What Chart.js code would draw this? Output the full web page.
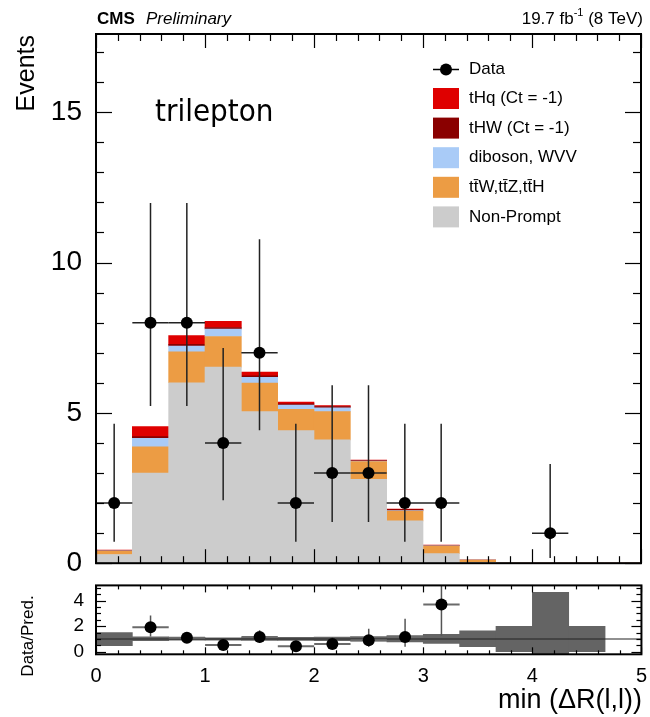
<!DOCTYPE html>
<html>
<head>
<meta charset="utf-8">
<script src="https://cdn.jsdelivr.net/npm/chart.js@4.4.1/dist/chart.umd.min.js"></script>
<style>
  html, body { margin: 0; padding: 0; background: #fff; }
  #wrap { position: relative; width: 650px; height: 717px; overflow: hidden; }
  #main { position: absolute; left: 0; top: 0; }
  #ratio { position: absolute; left: 0; top: 562px; }
</style>
</head>
<body>
<div id="wrap">
  <canvas id="main" width="650" height="594"></canvas>
  <canvas id="ratio" width="657" height="155"></canvas>
</div>
<script>
// ---- binning: min dR(l,l), 15 bins of width 1/3 between 0 and 5 ----
const binWidth = 1 / 3;
const binCenters = [0.1667, 0.5, 0.8333, 1.1667, 1.5, 1.8333, 2.1667, 2.5, 2.8333, 3.1667, 3.5, 3.8333, 4.1667, 4.5, 4.8333];

// ---- stacked predictions (events per bin) ----
const nonPrompt = [0.29, 3.00, 6.00, 6.52, 5.04, 4.41, 4.10, 2.79, 1.41, 0.32, 0.03, 0.01, 0.01, 0.01, 0.00];
const ttV       = [0.11, 0.87, 1.03, 1.02, 0.95, 0.71, 0.94, 0.59, 0.32, 0.25, 0.07, 0.00, 0.00, 0.00, 0.00];
const diboson   = [0.01, 0.28, 0.19, 0.25, 0.19, 0.14, 0.13, 0.02, 0.02, 0.01, 0.00, 0.00, 0.00, 0.00, 0.00];
const tHW       = [0.01, 0.06, 0.06, 0.05, 0.05, 0.04, 0.04, 0.01, 0.03, 0.01, 0.00, 0.00, 0.00, 0.00, 0.00];
const tHq       = [0.02, 0.33, 0.29, 0.20, 0.13, 0.06, 0.03, 0.02, 0.02, 0.01, 0.00, 0.00, 0.00, 0.00, 0.00];

// ---- observed data with Poisson intervals ----
const dataCounts = [2, 8, 8, 4, 7, 2, 3, 3, 2, 2, null, null, 1, null, null];
const dataLow    = [0.71, 5.23, 5.23, 2.09, 4.42, 0.71, 1.37, 1.37, 0.71, 0.71, null, null, 0.17, null, null];
const dataHigh   = [4.64, 11.98, 11.98, 7.16, 10.77, 4.64, 5.92, 5.92, 4.64, 4.64, null, null, 3.30, null, null];

// ---- ratio panel: data / prediction and prediction uncertainty ----
const ratioValues = [null, 1.92, 1.10, 0.52, 1.15, 0.43, 0.60, 0.90, 1.15, 3.70, null, null, null, null, null];
const ratioLow    = [null, 1.20, 0.70, 0.26, 0.70, 0.13, 0.26, 0.40, 0.39, 1.25, null, null, null, null, null];
const ratioHigh   = [null, 2.85, 1.55, 0.89, 1.68, 0.86, 1.13, 1.80, 2.58, 8.00, null, null, null, null, null];
const bandLow     = [0.47, 0.86, 0.90, 0.90, 0.88, 0.88, 0.87, 0.83, 0.78, 0.65, 0.40, 0.00, -2.60, 0.00];
const bandHigh    = [1.51, 1.16, 1.12, 1.10, 1.12, 1.13, 1.14, 1.18, 1.27, 1.36, 1.64, 2.00, 4.65, 2.00];

// ---- axis ticks ----
const xTicks = [0, 1, 2, 3, 4, 5];
const xTickLabels = ['0', '1', '2', '3', '4', '5'];
const yTicks = [0, 5, 10, 15];
const yTickLabels = ['0', '5', '10', '15'];
const ratioTicks = [0, 2, 4];
const ratioTickLabels = ['0', '2', '4'];

const legendEntries = [
  { label: 'tHq (Ct = -1)',      color: '#df0000' },
  { label: 'tHW (Ct = -1)',      color: '#8a0000' },
  { label: 'diboson, WVV',       color: '#a9cbf7' },
  { label: 't\u0074\u0304W,t\u0074\u0304Z,t\u0074\u0304H', color: '#ec9c44' },
  { label: 'Non-Prompt',         color: '#cccccc' }
];

const FONT = '"Liberation Sans", Arial, Helvetica, sans-serif';

function line(ctx, x0, y0, x1, y1) {
  ctx.beginPath(); ctx.moveTo(x0, y0); ctx.lineTo(x1, y1); ctx.stroke();
}

// ROOT-style frame with inward ticks on all four sides
function framePlugin(cfg) {
  return {
    id: 'frame',
    afterDraw(chart) {
      const { ctx, chartArea: a, scales: { x, y } } = chart;
      ctx.save();
      ctx.strokeStyle = '#000';
      ctx.lineWidth = 1.2;
      for (let v = x.min; v <= x.max + 1e-9; v += cfg.xMinor) {
        const px = Math.round(x.getPixelForValue(v)) + 0.5;
        const major = Math.abs(v - Math.round(v / cfg.xMajor) * cfg.xMajor) < 1e-6;
        const len = major ? cfg.xMajorLen : cfg.xMinorLen;
        line(ctx, px, a.bottom, px, a.bottom - len);
        line(ctx, px, a.top, px, a.top + len);
      }
      const yStart = Math.ceil(y.min / cfg.yMinor) * cfg.yMinor;
      for (let v = yStart; v <= y.max + 1e-9; v += cfg.yMinor) {
        const py = Math.round(y.getPixelForValue(v)) + 0.5;
        const major = Math.abs(v - Math.round(v / cfg.yMajor) * cfg.yMajor) < 1e-6;
        const len = major ? cfg.yMajorLen : cfg.yMinorLen;
        line(ctx, a.left, py, a.left + len, py);
        line(ctx, a.right, py, a.right - len, py);
      }
      ctx.lineWidth = 2;
      ctx.strokeRect(a.left, a.top, a.width, a.height);
      ctx.restore();
      if (cfg.after) cfg.after(chart);
    }
  };
}

// error bars drawn just before the marker dataset
function errorBarPlugin(cfg) {
  return {
    id: 'errorBars',
    beforeDatasetDraw(chart, args) {
      if (args.meta.type !== 'scatter') return;
      const { ctx, chartArea: a, scales: { x, y } } = chart;
      ctx.save();
      ctx.beginPath(); ctx.rect(a.left, a.top, a.width, a.height); ctx.clip();
      if (cfg.unity) {
        ctx.strokeStyle = '#222'; ctx.lineWidth = 1.2;
        const py = y.getPixelForValue(1);
        line(ctx, a.left, py, a.right, py);
      }
      cfg.values.forEach((v, i) => {
        if (v == null) return;
        const c = binCenters[i];
        const cx = x.getPixelForValue(c);
        const cy = y.getPixelForValue(v);
        ctx.strokeStyle = cfg.hColor; ctx.lineWidth = cfg.hWidth;
        line(ctx, x.getPixelForValue(c - binWidth / 2), cy, x.getPixelForValue(c + binWidth / 2), cy);
        ctx.strokeStyle = cfg.vColor; ctx.lineWidth = cfg.vWidth;
        line(ctx, cx, y.getPixelForValue(cfg.low[i]), cx, y.getPixelForValue(cfg.high[i]));
      });
      ctx.restore();
    }
  };
}

function drawMainText(chart) {
  const ctx = chart.ctx;
  ctx.save();
  ctx.fillStyle = '#000';
  ctx.textBaseline = 'alphabetic';
  // header
  ctx.textAlign = 'left';
  ctx.font = 'bold 17px ' + FONT;
  ctx.fillText('CMS', 97, 24);
  ctx.font = 'italic 17px ' + FONT;
  ctx.fillText('Preliminary', 146, 24);
  // luminosity, right aligned
  ctx.font = '17px ' + FONT;
  const p1 = '19.7 fb', p3 = ' (8 TeV)';
  const supFont = '11px ' + FONT;
  const w1 = ctx.measureText(p1).width, w3 = ctx.measureText(p3).width;
  ctx.font = supFont;
  const w2 = ctx.measureText('-1').width;
  const xr = 643 - (w1 + w2 + w3);
  ctx.font = '17px ' + FONT;
  ctx.fillText(p1, xr, 24);
  ctx.font = supFont;
  ctx.fillText('-1', xr + w1, 16);
  ctx.font = '17px ' + FONT;
  ctx.fillText(p3, xr + w1 + w2, 24);
  // channel label
  ctx.font = '31px "DejaVu Sans Condensed", "DejaVu Sans", sans-serif';
  ctx.fillText('trilepton', 155, 121);
  // y title
  ctx.save();
  ctx.translate(27, 35);
  ctx.rotate(-Math.PI / 2);
  ctx.textAlign = 'right';
  ctx.textBaseline = 'middle';
  ctx.font = '25px ' + FONT;
  ctx.fillText('Events', 0, 0);
  ctx.restore();
  // legend
  ctx.font = '17px ' + FONT;
  ctx.textBaseline = 'middle';
  ctx.textAlign = 'left';
  const lx = 433, tx = 469;
  const ly = 69.5;
  ctx.strokeStyle = '#000'; ctx.lineWidth = 1.5;
  line(ctx, lx, ly, lx + 26, ly);
  ctx.beginPath(); ctx.arc(lx + 13, ly, 6, 0, Math.PI * 2); ctx.fill();
  ctx.fillText('Data', tx, ly);
  legendEntries.forEach((e, i) => {
    const cy = 98.5 + i * 29.6;
    ctx.fillStyle = e.color;
    ctx.fillRect(lx, cy - 10.5, 26, 21);
    ctx.fillStyle = '#000';
    ctx.fillText(e.label, tx, cy);
  });
  ctx.restore();
}

function drawRatioText(chart) {
  const ctx = chart.ctx;
  ctx.save();
  ctx.fillStyle = '#000';
  ctx.font = '27px ' + FONT;
  ctx.textAlign = 'right';
  ctx.textBaseline = 'alphabetic';
  ctx.fillText('min (\u0394R(l,l))', 642, 146);
  ctx.translate(28, 74);
  ctx.rotate(-Math.PI / 2);
  ctx.textAlign = 'center';
  ctx.textBaseline = 'middle';
  ctx.font = '17px ' + FONT;
  ctx.fillText('Data/Pred.', 0, 0);
  ctx.restore();
}

Chart.defaults.font.family = FONT;
Chart.defaults.color = '#000';

const stackSets = [
  { label: 'Non-Prompt', data: nonPrompt, color: legendEntries[4].color },
  { label: 'ttV',        data: ttV,       color: legendEntries[3].color },
  { label: 'diboson',    data: diboson,   color: legendEntries[2].color },
  { label: 'tHW',        data: tHW,       color: legendEntries[1].color },
  { label: 'tHq',        data: tHq,       color: legendEntries[0].color }
].map(s => ({
  type: 'bar',
  label: s.label,
  data: binCenters.map((c, i) => ({ x: c, y: s.data[i] })),
  backgroundColor: s.color,
  borderWidth: 0,
  barPercentage: 1,
  categoryPercentage: 1,
  stack: 'mc',
  order: 1
}));

new Chart(document.getElementById('main'), {
  type: 'bar',
  data: {
    datasets: [
      ...stackSets,
      {
        type: 'scatter',
        label: 'Data',
        data: binCenters.map((c, i) => ({ x: c, y: dataCounts[i] })).filter(p => p.y != null),
        pointRadius: 6,
        pointHoverRadius: 6,
        pointBackgroundColor: '#000',
        pointBorderWidth: 0,
        stack: 'data',
        order: 0
      }
    ]
  },
  options: {
    responsive: false,
    animation: false,
    devicePixelRatio: 1,
    layout: { padding: { top: 34, right: 9, left: 0, bottom: 0 } },
    plugins: { legend: { display: false }, tooltip: { enabled: false } },
    scales: {
      x: {
        type: 'linear', min: 0, max: 5, offset: false, stacked: true,
        grid: { display: false, drawTicks: false }, border: { display: false },
        ticks: { display: false },
        afterFit: s => { s.height = 12; }
      },
      y: {
        type: 'linear', min: 0, max: 17.6, stacked: true,
        grid: { display: false, drawTicks: false }, border: { display: false },
        afterBuildTicks: s => { s.ticks = yTicks.map(v => ({ value: v })); },
        ticks: {
          font: { size: 28 }, padding: 14,
          callback: (v) => yTickLabels[yTicks.indexOf(v)]
        },
        afterFit: s => { s.width = 96; }
      }
    }
  },
  plugins: [
    errorBarPlugin({ values: dataCounts, low: dataLow, high: dataHigh,
      hColor: '#222', hWidth: 1.5, vColor: '#222', vWidth: 1.5 }),
    framePlugin({ xMinor: 0.2, xMajor: 1, xMajorLen: 14, xMinorLen: 7,
      yMinor: 1, yMajor: 5, yMajorLen: 16, yMinorLen: 8, after: drawMainText })
  ]
});

new Chart(document.getElementById('ratio'), {
  type: 'bar',
  data: {
    datasets: [
      {
        type: 'bar',
        label: 'Pred. uncertainty',
        data: bandLow.map((lo, i) => ({ x: binCenters[i], y: [lo, bandHigh[i]] })),
        backgroundColor: '#646464',
        borderWidth: 0,
        barPercentage: 1,
        categoryPercentage: 1,
        order: 1
      },
      {
        type: 'scatter',
        label: 'Data/Pred.',
        data: binCenters.map((c, i) => ({ x: c, y: ratioValues[i] })).filter(p => p.y != null),
        pointRadius: 6,
        pointHoverRadius: 6,
        pointBackgroundColor: '#000',
        pointBorderWidth: 0,
        order: 0
      }
    ]
  },
  options: {
    responsive: false,
    animation: false,
    devicePixelRatio: 1,
    layout: { padding: { top: 0, right: 0, left: 0, bottom: 0 } },
    plugins: { legend: { display: false }, tooltip: { enabled: false } },
    scales: {
      x: {
        type: 'linear', min: 0, max: 5, offset: false,
        grid: { display: false, drawTicks: false }, border: { display: false },
        afterBuildTicks: s => { s.ticks = xTicks.map(v => ({ value: v })); },
        ticks: {
          font: { size: 20 }, padding: 10, maxRotation: 0, autoSkip: false,
          callback: (v) => xTickLabels[xTicks.indexOf(v)]
        },
        afterFit: s => { s.height = 62.7; }
      },
      y: {
        type: 'linear', min: -0.2, max: 5.2,
        grid: { display: false, drawTicks: false }, border: { display: false },
        afterBuildTicks: s => { s.ticks = ratioTicks.map(v => ({ value: v })); },
        ticks: {
          font: { size: 19 }, padding: 12,
          callback: (v) => ratioTickLabels[ratioTicks.indexOf(v)]
        },
        afterFit: s => { s.width = 96; }
      }
    }
  },
  plugins: [
    errorBarPlugin({ values: ratioValues, low: ratioLow, high: ratioHigh, unity: true,
      hColor: '#6a6a6a', hWidth: 2, vColor: '#555', vWidth: 1.5 }),
    framePlugin({ xMinor: 0.2, xMajor: 1, xMajorLen: 7, xMinorLen: 4,
      yMinor: 0.5, yMajor: 2, yMajorLen: 10, yMinorLen: 5, after: drawRatioText })
  ]
});
</script>
</body>
</html>
